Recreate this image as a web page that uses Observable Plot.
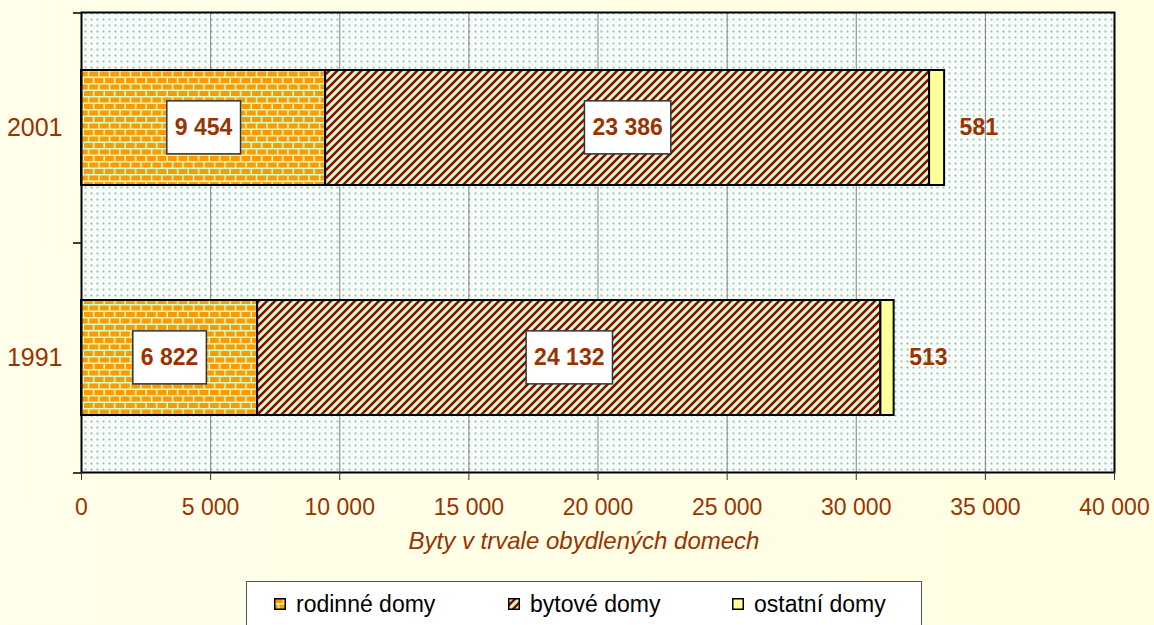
<!DOCTYPE html>
<html>
<head>
<meta charset="utf-8">
<script src="https://cdn.jsdelivr.net/npm/d3@7"></script>
<script src="https://cdn.jsdelivr.net/npm/@observablehq/plot@0.6"></script>
<style>
  html, body { margin: 0; padding: 0; }
  body {
    width: 1154px; height: 625px; overflow: hidden; position: relative;
    background: linear-gradient(to right, #FFFFEA, #FFFEE2);
    font-family: "Liberation Sans", Arial, sans-serif;
  }
  #chart { position: absolute; left: 0; top: 0; }
  #legend {
    position: absolute; left: 246px; top: 581px; width: 676px; height: 60px;
    background: #fff; border: 1.5px solid #555; box-sizing: border-box;
  }
  .item { position: absolute; top: 8px; height: 28px; display: flex; align-items: center;
          font-size: 23px; color: #000; white-space: nowrap; }
  .item svg { margin-right: 10px; }
</style>
</head>
<body>
<div id="chart"></div>
<div id="legend"></div>
<script>
// ---- data ----
const years = ["2001", "1991"];
const types = ["rodinné domy", "bytové domy", "ostatní domy"];
const rodinne = [9454, 6822];
const bytove = [23386, 24132];
const ostatni = [581, 513];
const xTicks = [0, 5000, 10000, 15000, 20000, 25000, 30000, 35000, 40000];
const axisTitle = "Byty v trvale obydlených domech";

// ---- styles ----
const fills = {"rodinné domy": "url(#brick)", "bytové domy": "url(#diag)", "ostatní domy": "#FFFF99"};
const brown = "#993300";
const fmt = d => d3.format(",")(d).replace(/,/g, " ");

const series = [rodinne, bytove, ostatni];
const rows = [];
years.forEach((y, i) => types.forEach((t, j) => rows.push({year: y, type: t, value: series[j][i]})));

const plot = Plot.plot({
  width: 1154, height: 580,
  marginLeft: 81, marginRight: 40, marginTop: 12, marginBottom: 108,
  style: {background: "transparent", fontFamily: "Liberation Sans, Arial, sans-serif", fontSize: "23px", overflow: "visible"},
  x: {domain: [0, 40000], label: null},
  y: {domain: years, paddingInner: 0.5, paddingOuter: 0.25, label: null},
  color: {type: "identity"},
  marks: [
    Plot.frame({fill: "url(#dots)", stroke: null}),
    Plot.gridX(xTicks, {stroke: "#808080", strokeOpacity: 1, strokeWidth: 1}),
    Plot.barX(rows, Plot.stackX({y: "year", x: "value", z: "type", fill: d => fills[d.type], stroke: "#000", strokeWidth: 2})),
    Plot.text(rows, Plot.stackX({y: "year", x: "value", z: "type",
      text: d => d.type !== types[2] ? fmt(d.value) : "",
      fontSize: 23, fontWeight: "bold", fill: brown, className: "boxlab"})),
    Plot.text(rows, Plot.stackX2({y: "year", x: "value", z: "type",
      text: d => d.type === types[2] ? fmt(d.value) : "",
      fontSize: 23, fontWeight: "bold", fill: brown, textAnchor: "start", dx: 15})),
    Plot.frame({stroke: "#000", strokeWidth: 2}),
    Plot.axisX(xTicks, {tickSize: 8, tickPadding: 18, tickFormat: fmt, fontSize: 23, fill: brown, stroke: "#333", label: null}),
    Plot.axisY({tickSize: 0, tickPadding: 19, fontSize: 25, fill: brown, label: null}),
    Plot.axisY(years, {tickSize: 8, dy: -115, tickFormat: () => "", stroke: "#000", strokeWidth: 1.5, label: null}),
    Plot.axisY([years[1]], {tickSize: 8, dy: 115, tickFormat: () => "", stroke: "#000", strokeWidth: 1.5, label: null}),
    Plot.text([axisTitle], {frameAnchor: "bottom", dy: 76, dx: -14, fontSize: 24, fontStyle: "italic", fill: brown})
  ]
});

const defs = `
<pattern id="dots" patternUnits="userSpaceOnUse" width="6" height="6">
  <rect width="6" height="6" fill="#ffffff"/>
  <rect x="0" y="0" width="2" height="2" fill="#86c9a4"/>
  <rect x="3" y="3" width="1" height="1" fill="#a9dbbf"/>
</pattern>
<pattern id="brick" patternUnits="userSpaceOnUse" width="10.5" height="13">
  <rect width="10.5" height="13" fill="#CCFFCC"/>
  <rect x="0" y="0" width="9" height="5" fill="#FF9900"/>
  <rect x="-5.25" y="6.5" width="9" height="5" fill="#FF9900"/>
  <rect x="5.25" y="6.5" width="9" height="5" fill="#FF9900"/>
</pattern>
<pattern id="diag" patternUnits="userSpaceOnUse" width="8" height="8">
  <rect width="8" height="8" fill="#CCFFCC"/>
  <path d="M-2,2 L2,-2 M0,8 L8,0 M6,10 L10,6" stroke="#990000" stroke-width="2.5"/>
</pattern>`;
const d = document.createElementNS("http://www.w3.org/2000/svg", "defs");
d.innerHTML = defs;
plot.insertBefore(d, plot.firstChild);
document.getElementById("chart").appendChild(plot);

// white label boxes behind the bar-value labels
plot.querySelectorAll("g.boxlab text").forEach(t => {
  if (!t.textContent) return;
  const b = t.getBBox();
  const r = document.createElementNS("http://www.w3.org/2000/svg", "rect");
  const cy = b.y + b.height / 2;
  r.setAttribute("x", b.x - 8);
  r.setAttribute("y", cy - 26.5);
  r.setAttribute("width", b.width + 16);
  r.setAttribute("height", 53);
  r.setAttribute("fill", "#fff");
  r.setAttribute("stroke", "#333");
  r.setAttribute("stroke-width", 1.5);
  if (t.getAttribute("transform")) r.setAttribute("transform", t.getAttribute("transform"));
  t.parentNode.insertBefore(r, t);
});

// legend
const legend = document.getElementById("legend");
const lefts = [27, 261, 485];
types.forEach((t, i) => {
  const it = document.createElement("div");
  it.className = "item";
  it.style.left = lefts[i] + "px";
  it.innerHTML = `<svg width="12" height="12"><rect x="0.75" y="0.75" width="10.5" height="10.5" fill="${fills[t]}" stroke="#000" stroke-width="1.5"/></svg><span>${t}</span>`;
  legend.appendChild(it);
});
</script>
</body>
</html>
